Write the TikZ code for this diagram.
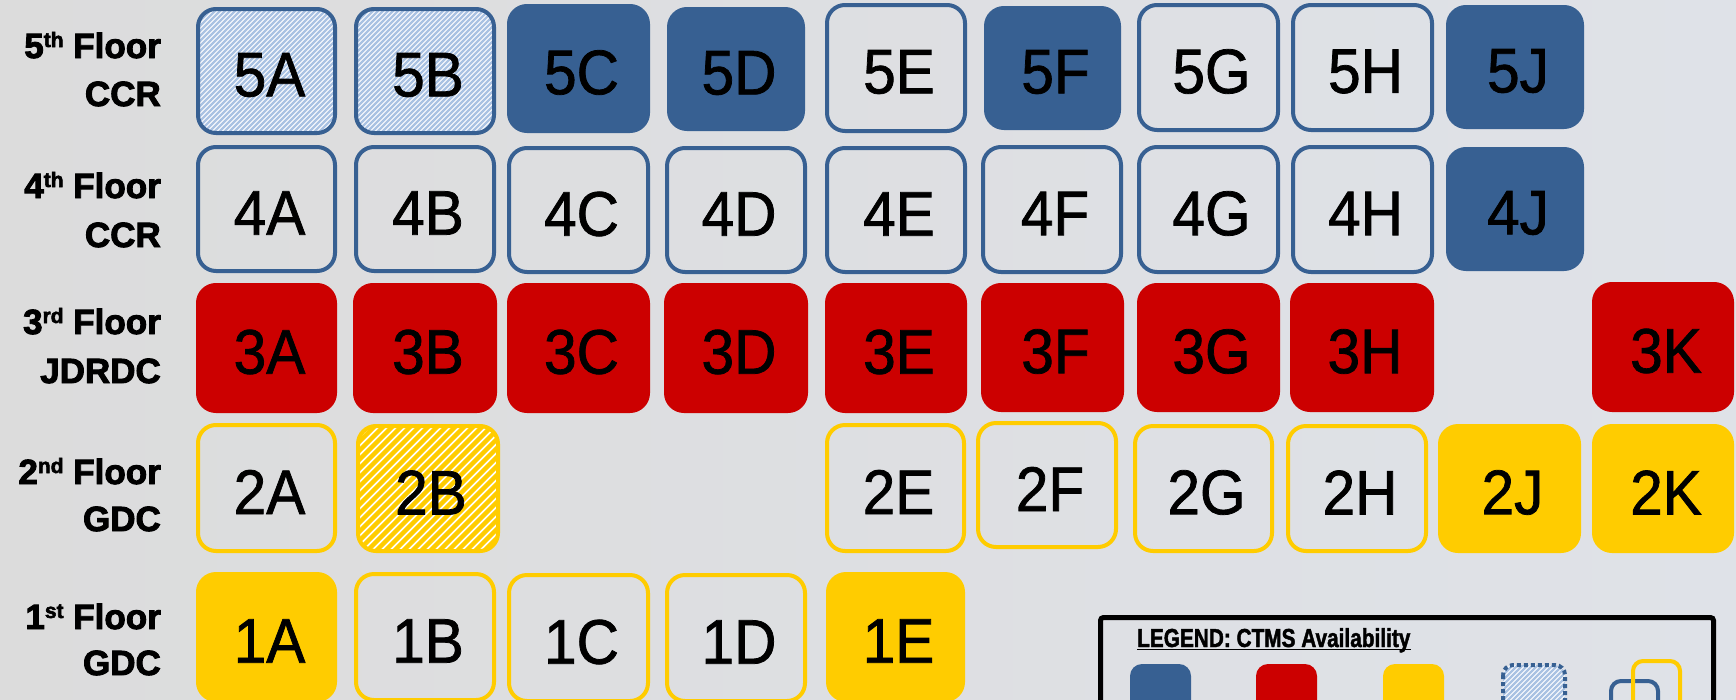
\documentclass[tikz,border=0pt]{standalone}
\usepackage{fontspec}
\setmainfont{Liberation Sans}
\newfontfamily\roomfont[FakeStretch=0.93,FakeBold=1.2]{Liberation Sans}
\newfontfamily\floorfont[BoldFeatures={FakeBold=2.6}]{Liberation Sans}
\newfontfamily\legfont[FakeStretch=0.8,BoldFeatures={FakeBold=1.6}]{Liberation Sans}
\definecolor{cblue}{RGB}{55,96,146}
\definecolor{cred}{RGB}{204,0,0}
\definecolor{cyel}{RGB}{255,204,0}
\definecolor{cstripe}{RGB}{170,194,226}
\definecolor{bgL}{RGB}{220,220,220}
\definecolor{bgR}{RGB}{223,226,232}
\newcommand\supx[1]{{\fontsize{21}{21}\selectfont\raisebox{11pt}{#1}}}
\newcommand\room[7]{%
  \pgfmathsetmacro\rw{#4-#2-4}\pgfmathsetmacro\rh{#5-#3-4}%
  \pgfmathsetmacro\rx{(#2+#4)/2}\pgfmathsetmacro\ry{(#3+#5)/2}%
  \node[roombox,#6,minimum width=\rw pt,minimum height=\rh pt] (#1) at (\rx,\ry) {};
  \node[roomtext] (#1t) at ([shift={(3,4)}]#1.center) {#7};}
\begin{document}
\begin{tikzpicture}[x=1pt,y=-1pt,
  roombox/.style={rectangle,rounded corners=18pt,line width=4pt,inner sep=0pt},
  roomtext/.style={inner sep=0pt,font=\roomfont\fontsize{63}{70}\selectfont},
  fillB/.style={draw=cblue,fill=cblue},
  fillR/.style={draw=cred,fill=cred},
  fillY/.style={draw=cyel,fill=cyel},
  lineB/.style={draw=cblue},
  lineY/.style={draw=cyel},
  hatchB/.style={draw=cblue,fill=white,path picture={
    \foreach \k in {-31,...,32}{\draw[cstripe,line width=2.2pt]
      ([xshift=\k*5pt]path picture bounding box.south west) -- ++(170pt,170pt);}}},
  hatchY/.style={draw=cyel,fill=white,path picture={
    \foreach \k in {-18,...,18}{\draw[cyel,line width=4.5pt]
      ([xshift=\k*9pt]path picture bounding box.south west) -- ++(170pt,170pt);}}},
  floorlbl/.style={anchor=base east,inner sep=0pt,font=\floorfont\bfseries\fontsize{35}{40}\selectfont},
]
\useasboundingbox (0,0) rectangle (1736,699);
\clip (0,0) rectangle (1736,699);
\shade[left color=bgL,right color=bgR] (0,0) rectangle (1736,699);

% floor labels
\node[floorlbl] (f5a) at (161,58) {5\supx{th} Floor};
\node[floorlbl] (f5b) at (161,106) {CCR};
\node[floorlbl] (f4a) at (161,198) {4\supx{th} Floor};
\node[floorlbl] (f4b) at (161,247) {CCR};
\node[floorlbl] (f3a) at (161,334) {3\supx{rd} Floor};
\node[floorlbl] (f3b) at (161,383) {JDRDC};
\node[floorlbl] (f2a) at (161,484) {2\supx{nd} Floor};
\node[floorlbl] (f2b) at (161,531) {GDC};
\node[floorlbl] (f1a) at (161,629) {1\supx{st} Floor};
\node[floorlbl] (f1b) at (161,675) {GDC};

% row 5
\room{r5A}{196}{7}{337}{135}{hatchB}{5A}
\room{r5B}{354}{7}{496}{135}{hatchB}{5B}
\room{r5C}{507}{4}{650}{133}{fillB}{5C}
\room{r5D}{667}{7}{805}{131}{fillB}{5D}
\room{r5E}{825}{3}{967}{133}{lineB}{5E}
\room{r5F}{984}{6}{1121}{130}{fillB}{5F}
\room{r5G}{1137}{3}{1280}{132}{lineB}{5G}
\room{r5H}{1291}{3}{1434}{132}{lineB}{5H}
\room{r5J}{1446}{5}{1584}{129}{fillB}{5J}
% row 4
\room{r4A}{196}{145}{337}{273}{lineB}{4A}
\room{r4B}{354}{145}{496}{273}{lineB}{4B}
\room{r4C}{507}{146}{650}{274}{lineB}{4C}
\room{r4D}{665}{146}{807}{274}{lineB}{4D}
\room{r4E}{825}{146}{967}{274}{lineB}{4E}
\room{r4F}{981}{145}{1123}{274}{lineB}{4F}
\room{r4G}{1137}{145}{1280}{274}{lineB}{4G}
\room{r4H}{1291}{145}{1434}{274}{lineB}{4H}
\room{r4J}{1446}{147}{1584}{271}{fillB}{4J}
% row 3
\room{r3A}{196}{283}{337}{413}{fillR}{3A}
\room{r3B}{353}{283}{497}{413}{fillR}{3B}
\room{r3C}{507}{283}{650}{413}{fillR}{3C}
\room{r3D}{664}{283}{808}{413}{fillR}{3D}
\room{r3E}{825}{283}{967}{413}{fillR}{3E}
\room{r3F}{981}{283}{1124}{412}{fillR}{3F}
\room{r3G}{1137}{283}{1280}{412}{fillR}{3G}
\room{r3H}{1290}{283}{1434}{412}{fillR}{3H}
\room{r3K}{1592}{282}{1734}{412}{fillR}{3K}
% row 2
\room{r2A}{196}{423}{337}{553}{lineY}{2A}
\room{r2B}{356}{424}{500}{553}{hatchY}{2B}
\room{r2E}{825}{423}{966}{553}{lineY}{2E}
\room{r2F}{976}{421}{1118}{549}{lineY}{2F}
\room{r2G}{1133}{424}{1274}{553}{lineY}{2G}
\room{r2H}{1286}{424}{1428}{553}{lineY}{2H}
\room{r2J}{1438}{424}{1581}{553}{fillY}{2J}
\room{r2K}{1592}{424}{1734}{553}{fillY}{2K}
% row 1
\room{r1A}{196}{572}{337}{702}{fillY}{1A}
\room{r1B}{354}{572}{496}{702}{lineY}{1B}
\room{r1C}{507}{573}{650}{703}{lineY}{1C}
\room{r1D}{665}{573}{807}{703}{lineY}{1D}
\room{r1E}{826}{572}{965}{702}{fillY}{1E}

% legend
\draw[line width=5pt,rounded corners=3pt] (1100.5,617.5) rectangle (1713.5,780);
\node[anchor=base west,inner sep=0pt,font=\legfont\bfseries\fontsize{26}{30}\selectfont] (legtitle) at (1137,647) {LEGEND: CTMS Availability};
\draw[line width=1.8pt] ([yshift=-2.5pt]legtitle.base west) -- ([yshift=-2.5pt]legtitle.base east);
\fill[cblue,rounded corners=12pt] (1130,664) rectangle (1191,760);
\fill[cred,rounded corners=12pt] (1256,664) rectangle (1317,760);
\fill[cyel,rounded corners=12pt] (1383,664) rectangle (1444,760);
\begin{scope}
  \clip[rounded corners=10pt] (1503,665) rectangle (1565,760);
  \fill[white] (1503,665) rectangle (1565,760);
  \foreach \k in {-20,...,14}{\draw[cstripe,line width=2.2pt] (1503+\k*5,760) -- ++(100,-100);}
\end{scope}
\draw[cblue,line width=4pt,dash pattern=on 4pt off 3pt,rounded corners=10pt] (1503,665) rectangle (1565,760);
\draw[cblue,line width=4pt,rounded corners=10pt] (1611,681) rectangle (1658,760);
\draw[cyel,line width=4pt,rounded corners=10pt] (1633,661) rectangle (1680,760);
\end{tikzpicture}
\end{document}
